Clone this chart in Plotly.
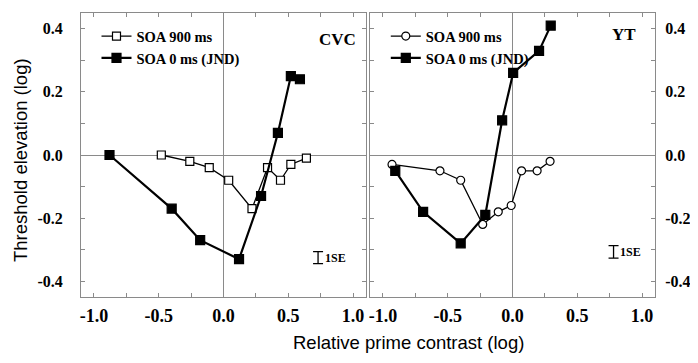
import plotly.graph_objects as go

# ---- data: CVC (left panel) ----
cvc_900_x = [-0.48, -0.26, -0.11, 0.04, 0.22, 0.34, 0.44, 0.52, 0.64]
cvc_900_y = [0.00, -0.02, -0.04, -0.08, -0.17, -0.04, -0.08, -0.03, -0.01]
cvc_0_x = [-0.88, -0.40, -0.18, 0.12, 0.29, 0.42, 0.52, 0.59]
cvc_0_y = [0.00, -0.17, -0.27, -0.33, -0.13, 0.07, 0.25, 0.24]

# ---- data: YT (right panel) ----
yt_900_x = [-0.93, -0.56, -0.40, -0.23, -0.11, -0.01, 0.07, 0.19, 0.29]
yt_900_y = [-0.03, -0.05, -0.08, -0.22, -0.18, -0.16, -0.05, -0.05, -0.02]
yt_0_x = [-0.905, -0.69, -0.40, -0.21, -0.08, 0.005, 0.205, 0.295]
yt_0_y = [-0.05, -0.18, -0.28, -0.19, 0.11, 0.26, 0.33, 0.41]

# ---- 1SE bars ----
se_x = [0.73, 0.78]
se_y = [-0.325, -0.307]
se_half = [0.019, 0.020]

x_tickvals = [-1.0, -0.75, -0.5, -0.25, 0.0, 0.25, 0.5, 0.75, 1.0]
x_ticktext = ["-1.0", "", "-0.5", "", "0.0", "", "0.5", "", "1.0"]
y_tickvals = [-0.4, -0.3, -0.2, -0.1, 0.0, 0.1, 0.2, 0.3, 0.4]
y_ticktext = ["-0.4", "", "-0.2", "", "0.0", "", "0.2", "", "0.4"]

serif = "Liberation Serif"
sans = "Liberation Sans"

def bold(s):
    return f"<b>{s}</b>" if s else ""

fig = go.Figure()

def add_series(x, y, name, symbol, filled, xa, ya, legend):
    fig.add_trace(go.Scatter(
        x=x, y=y, name=bold(name), mode="lines+markers",
        xaxis=xa, yaxis=ya, legend=legend,
        line=dict(color="black", width=2.2 if filled else 1.3),
        marker=dict(symbol=symbol, size=9 if filled else 8,
                    color="black" if filled else "white",
                    line=dict(color="black", width=1.2)),
    ))

add_series(cvc_900_x, cvc_900_y, "SOA 900 ms", "square", False, "x", "y", "legend")
add_series(cvc_0_x, cvc_0_y, "SOA 0 ms (JND)", "square", True, "x", "y", "legend")
add_series(yt_900_x, yt_900_y, "SOA 900 ms", "circle", False, "x2", "y2", "legend2")
add_series(yt_0_x, yt_0_y, "SOA 0 ms (JND)", "square", True, "x2", "y2", "legend2")

for i, (xa, ya) in enumerate([("x", "y"), ("x2", "y2")]):
    fig.add_trace(go.Scatter(
        x=[se_x[i]], y=[se_y[i]], mode="markers", showlegend=False,
        xaxis=xa, yaxis=ya,
        marker=dict(size=0.1, color="black"),
        error_y=dict(type="data", array=[se_half[i]], color="black",
                     thickness=1.3, width=5),
    ))
    fig.add_annotation(x=se_x[i] + 0.035, y=se_y[i], xref=xa, yref=ya,
                       text="<b>1SE</b>", showarrow=False, xanchor="left",
                       font=dict(family=serif, size=12, color="black"))

fig.add_annotation(x=0.883, y=0.365, xref="x", yref="y", text="<b>CVC</b>",
                   showarrow=False, font=dict(family=serif, size=17, color="black"))
fig.add_annotation(x=0.861, y=0.383, xref="x2", yref="y2", text="<b>YT</b>",
                   showarrow=False, font=dict(family=serif, size=17, color="black"))

axis_common = dict(
    range=[-1.1, 1.1], showline=True, linecolor="#8a8a8a", linewidth=1,
    mirror="ticks", ticks="inside", ticklen=4, tickcolor="#8a8a8a",
    showgrid=False, zeroline=True, zerolinecolor="#8a8a8a", zerolinewidth=1,
    tickvals=x_tickvals, ticktext=[bold(t) for t in x_ticktext],
    tickfont=dict(family=serif, size=18, color="black"),
    ticklabelstandoff=2, automargin=False,
)
yaxis_common = dict(
    range=[-0.45, 0.45], showline=True, linecolor="#8a8a8a", linewidth=1,
    mirror="ticks", ticks="inside", ticklen=4, tickcolor="#8a8a8a",
    showgrid=False, zeroline=True, zerolinecolor="#8a8a8a", zerolinewidth=1,
    tickvals=y_tickvals, ticktext=[bold(t) for t in y_ticktext],
    tickfont=dict(family=serif, size=16, color="black"), automargin=False,
)

legend_common = dict(
    bgcolor="rgba(0,0,0,0)", borderwidth=0, tracegroupgap=0, itemwidth=30,
    font=dict(family=serif, size=14.5, color="black"),
    xanchor="left", yanchor="top", itemclick=False,
)

# page body has an 8px default margin, so the figure is drawn 8px smaller
fig.update_layout(
    width=690, height=355,
    margin=dict(l=73, r=43, t=5, b=66, autoexpand=False),
    paper_bgcolor="white", plot_bgcolor="white",
    xaxis=dict(domain=[0, 0.4965], anchor="y", **axis_common),
    xaxis2=dict(domain=[0.5035, 1], anchor="y2", **axis_common),
    yaxis=dict(domain=[0, 1], anchor="x", ticklabelstandoff=14, **yaxis_common),
    yaxis2=dict(domain=[0, 1], anchor="x2", side="right", ticklabelstandoff=6, **yaxis_common),
    legend=dict(x=0.027, y=0.975, **legend_common),
    legend2=dict(x=0.531, y=0.975, **legend_common),
    showlegend=True,
)

fig.add_annotation(x=(408 - 81) / 574, y=(297 - 342) / 284, xref="paper", yref="paper",
                   text="Relative prime contrast (log)", showarrow=False,
                   xanchor="center", yanchor="middle",
                   font=dict(family=sans, size=18.5, color="black"))
fig.add_annotation(x=(20 - 81) / 574, y=(297 - 160) / 284, xref="paper", yref="paper",
                   text="Threshold elevation (log)", textangle=-90, showarrow=False,
                   xanchor="center", yanchor="middle",
                   font=dict(family=sans, size=18.5, color="black"))

fig.write_html("out.html")
